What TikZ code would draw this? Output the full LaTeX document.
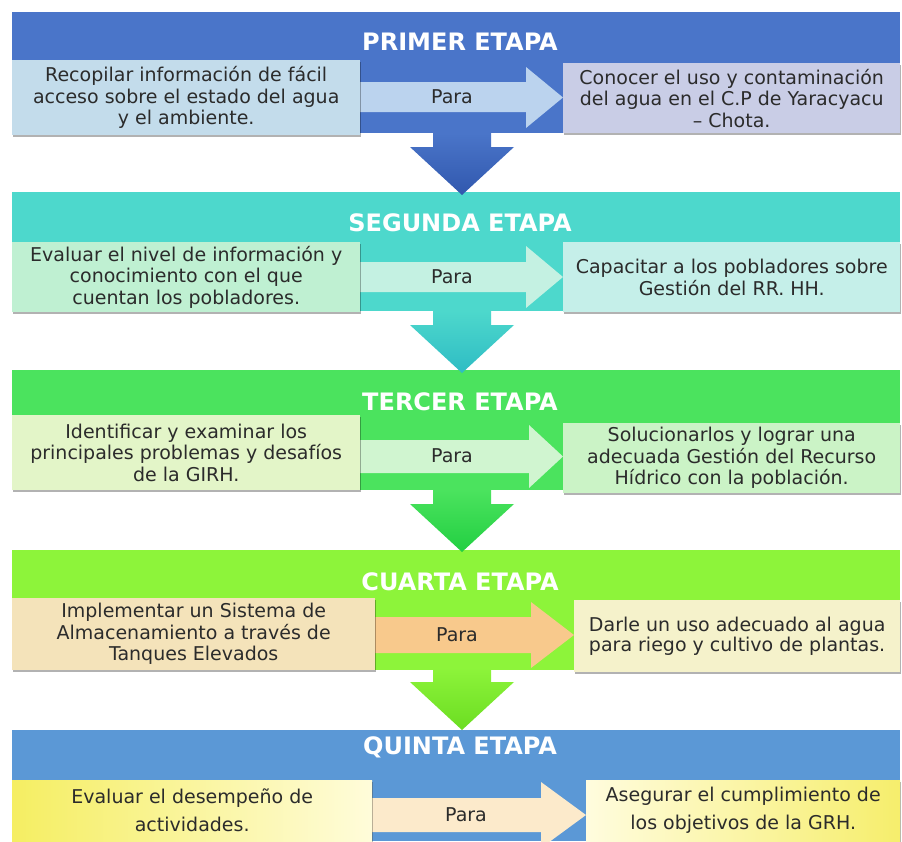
\documentclass[tikz,border=0pt]{standalone}
\usepackage{fontspec}
\setmainfont{DejaVu Sans}
\usetikzlibrary{shadows}
\definecolor{bandA}{HTML}{4A75C9}
\definecolor{bandAd}{HTML}{3158AE}
\definecolor{leftA}{HTML}{C3DCEB}
\definecolor{rightA}{HTML}{C9CDE6}
\definecolor{paraA}{HTML}{BBD3EE}
\definecolor{bandB}{HTML}{4DD8CC}
\definecolor{bandBd}{HTML}{2EBCC4}
\definecolor{leftB}{HTML}{BFF0D2}
\definecolor{rightB}{HTML}{C5EFE9}
\definecolor{paraB}{HTML}{C4F1E2}
\definecolor{bandC}{HTML}{4BE35E}
\definecolor{bandCd}{HTML}{22CF42}
\definecolor{leftC}{HTML}{E3F5C8}
\definecolor{rightC}{HTML}{CBF3C6}
\definecolor{paraC}{HTML}{D0F5D0}
\definecolor{bandD}{HTML}{8DF43A}
\definecolor{bandDd}{HTML}{6BDD22}
\definecolor{leftD}{HTML}{F4E3BA}
\definecolor{rightD}{HTML}{F5F2CB}
\definecolor{paraD}{HTML}{F8C98C}
\definecolor{bandE}{HTML}{5B98D6}
\definecolor{leftEa}{HTML}{F5EE62}
\definecolor{leftEb}{HTML}{FFFCDA}
\definecolor{rightEa}{HTML}{FFFCDE}
\definecolor{rightEb}{HTML}{F6EE6C}
\definecolor{paraE}{HTML}{FCEACB}
\definecolor{txt}{HTML}{2B2B2B}
\tikzset{
  hdr/.style={text=white, font=\bfseries\fontsize{24}{28}\selectfont, inner sep=0pt},
  boxstyle/.style={anchor=north west, inner sep=0pt, align=center, text=txt,
    font=\fontsize{19}{21.5}\selectfont,
    drop shadow={shadow xshift=0.6pt, shadow yshift=-1.6pt, fill=black, opacity=0.3}},
  paratext/.style={text=txt, font=\fontsize{19}{22}\selectfont, inner sep=0pt},
}
\newcommand{\downarrowat}[1]{% #1 = y of box bottom
  (433,#1) -- (491,#1) -- (491,#1+14) -- (514,#1+14) -- (462,#1+62) -- (410,#1+14) -- (433,#1+14) -- cycle}
\begin{document}
\begin{tikzpicture}[x=1pt,y=-1pt]
\useasboundingbox[fill=white] (0,0) rectangle (902,841);
% bands
\fill[bandA] (12,12) rectangle (900,133);
\fill[bandB] (12,192) rectangle (900,311);
\fill[bandC] (12,370) rectangle (900,490);
\fill[bandD] (12,550) rectangle (900,670);
\fill[bandE] (12,730) rectangle (900,841);
% down arrows
\shade[top color=bandA, bottom color=bandAd] \downarrowat{133};
\shade[top color=bandB, bottom color=bandBd] \downarrowat{311};
\shade[top color=bandC, bottom color=bandCd] \downarrowat{490};
\shade[top color=bandD, bottom color=bandDd] \downarrowat{668};
% headers
\node[hdr] (h1) at (460,42) {PRIMER ETAPA};
\node[hdr] (h2) at (460,223) {SEGUNDA ETAPA};
\node[hdr] (h3) at (460,402) {TERCER ETAPA};
\node[hdr] (h4) at (460,582) {CUARTA ETAPA};
\node[hdr] (h5) at (460,747) {QUINTA ETAPA};
% para arrows
\fill[paraA] (360,82) -- (526,82) -- (526,67) -- (563,97.5) -- (526,128) -- (526,112) -- (360,112) -- cycle;
\node[paratext] (p1) at (452,97) {Para};
\fill[paraB] (360,262) -- (526,262) -- (526,246) -- (563,277) -- (526,308) -- (526,292) -- (360,292) -- cycle;
\node[paratext] (p2) at (452,277) {Para};
\fill[paraC] (360,440) -- (529,440) -- (529,425) -- (563,456.5) -- (529,488) -- (529,473) -- (360,473) -- cycle;
\node[paratext] (p3) at (452,456) {Para};
\fill[paraD] (375,617) -- (531,617) -- (531,602) -- (574,635) -- (531,668) -- (531,653) -- (375,653) -- cycle;
\node[paratext] (p4) at (457,635) {Para};
\fill[paraE] (372,798) -- (541,798) -- (541,782) -- (586,815) -- (541,848) -- (541,832) -- (372,832) -- cycle;
\node[paratext] (p5) at (466,815) {Para};
% boxes stage 1
\node[boxstyle, fill=leftA, minimum width=348, minimum height=75] (l1) at (12,60)
  {Recopilar información de fácil\\acceso sobre el estado del agua\\y el ambiente.};
\node[boxstyle, fill=rightA, minimum width=337, minimum height=70] (r1) at (563,63)
  {Conocer el uso y contaminación\\del agua en el C.P de Yaracyacu\\– Chota.};
% stage 2
\node[boxstyle, fill=leftB, minimum width=348, minimum height=70] (l2) at (12,242)
  {Evaluar el nivel de información y\\conocimiento con el que\\cuentan los pobladores.};
\node[boxstyle, fill=rightB, minimum width=337, minimum height=70] (r2) at (563,242)
  {Capacitar a los pobladores sobre\\Gestión del RR. HH.};
% stage 3
\node[boxstyle, fill=leftC, minimum width=348, minimum height=75] (l3) at (12,415)
  {Identificar y examinar los\\principales problemas y desafíos\\de la GIRH.};
\node[boxstyle, fill=rightC, minimum width=337, minimum height=70] (r3) at (563,423)
  {Solucionarlos y lograr una\\adecuada Gestión del Recurso\\Hídrico con la población.};
% stage 4
\node[boxstyle, fill=leftD, minimum width=363, minimum height=72] (l4) at (12,598)
  {Implementar un Sistema de\\Almacenamiento a través de\\Tanques Elevados};
\node[boxstyle, fill=rightD, minimum width=326, minimum height=72, align=left,
  font=\fontsize{19}{19.5}\selectfont] (r4) at (574,600)
  {Darle un uso adecuado al agua\\para riego y cultivo de plantas.};
% stage 5
\node[boxstyle, left color=leftEa, right color=leftEb, minimum width=360, minimum height=61,
  font=\fontsize{19}{28}\selectfont] (l5) at (12,780)
  {Evaluar el desempeño de\\actividades.};
\node[boxstyle, left color=rightEa, right color=rightEb, minimum width=314, minimum height=61,
  font=\fontsize{19}{28}\selectfont] (r5) at (586,780)
  {Asegurar el cumplimiento de\\los objetivos de la GRH.};
\end{tikzpicture}
\end{document}
